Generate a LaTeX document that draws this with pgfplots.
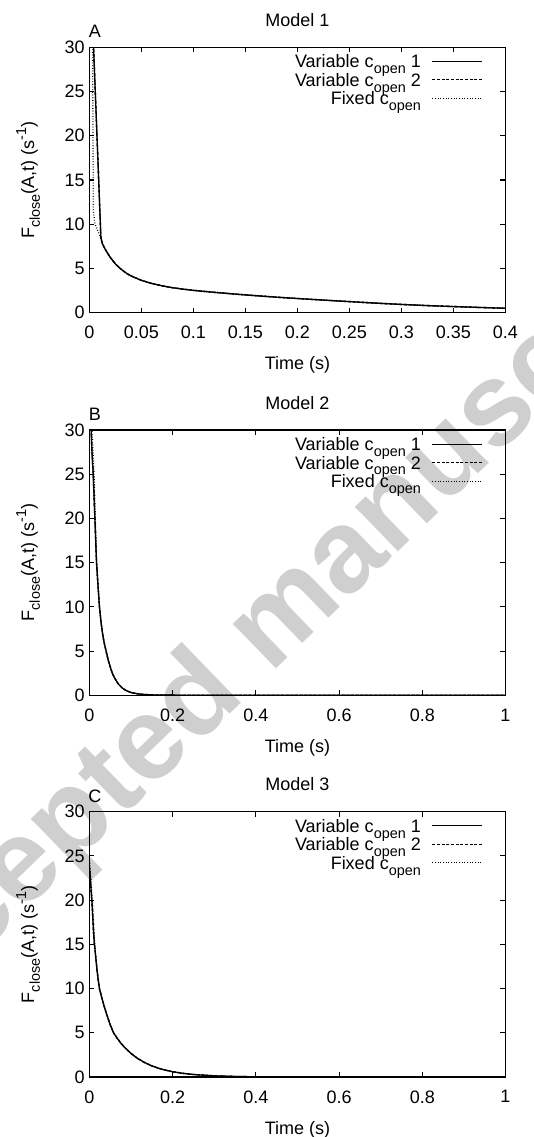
\documentclass[border=0pt]{standalone}
\usepackage{fontspec}
\setmainfont{Liberation Sans}
\usepackage{pgfplots}
\usepackage{pgfplotstable}
\pgfplotsset{compat=1.18}

\definecolor{wmgray}{gray}{0.81}

% gnuplot-like sub- and superscripts
\newcommand\lowsub[1]{\raisebox{-0.32em}{\fontsize{10.8pt}{12pt}\selectfont #1}}
\newcommand\highsup[1]{\raisebox{0.45em}{\fontsize{10.8pt}{12pt}\selectfont #1}}
\newcommand\gpfont{\fontsize{13.5pt}{15pt}\selectfont}

% ---------------- Model 1 ----------------
\pgfplotstableread{
t      F
0.003  32.9
0.011  8.45
0.0125 7.8
0.015  7.2
0.0175 6.7
0.02   6.25
0.025  5.5
0.03   4.95
0.035  4.5
0.04   4.15
0.05   3.65
0.06   3.3
0.07   3.03
0.08   2.82
0.09   2.66
0.1    2.52
0.12   2.3
0.14   2.1
0.16   1.92
0.18   1.75
0.2    1.6
0.225  1.42
0.25   1.25
0.275  1.08
0.3    0.93
0.325  0.8
0.35   0.69
0.375  0.59
0.4    0.5
}\mAvarA
\pgfplotstableread{
t      F
0.003  32.9
0.011  8.45
0.0125 7.8
0.015  7.2
0.0175 6.7
0.02   6.25
0.025  5.5
0.03   4.95
0.035  4.5
0.04   4.15
0.05   3.65
0.06   3.3
0.07   3.03
0.08   2.82
0.09   2.66
0.1    2.52
0.12   2.3
0.14   2.1
0.16   1.92
0.18   1.75
0.2    1.6
0.225  1.42
0.25   1.25
0.275  1.08
0.3    0.93
0.325  0.8
0.35   0.69
0.375  0.59
0.4    0.5
}\mAvarB
\pgfplotstableread{
t      F
0.0027 34.0
0.0030 30.0
0.0038 11.4
0.0053 10.0
0.011  8.45
0.0125 7.8
0.015  7.2
0.0175 6.7
0.02   6.25
0.025  5.5
0.03   4.95
0.035  4.5
0.04   4.15
0.05   3.65
0.06   3.3
0.07   3.03
0.08   2.82
0.09   2.66
0.1    2.52
0.12   2.3
0.14   2.1
0.16   1.92
0.18   1.75
0.2    1.6
0.225  1.42
0.25   1.25
0.275  1.08
0.3    0.93
0.325  0.8
0.35   0.69
0.375  0.59
0.4    0.5
}\mAfix

% ---------------- Model 2 ----------------
\pgfplotstableread{
t     F
0     36
0.004 30
0.006 27.5
0.009 25
0.013 20
0.017 15
0.020 12.8
0.024 10
0.028 8.2
0.032 6.8
0.036 5.8
0.040 5.0
0.045 4.0
0.050 3.2
0.055 2.5
0.060 2.0
0.065 1.6
0.070 1.25
0.080 0.78
0.090 0.5
0.100 0.32
0.115 0.18
0.130 0.1
0.150 0.05
0.200 0.02
0.3   0.01
0.5   0.005
1.0   0.0
}\mBvarA
\pgfplotstableread{
t     F
0     36
0.004 30
0.006 27.5
0.009 25
0.013 20
0.017 15
0.020 12.8
0.024 10
0.028 8.2
0.032 6.8
0.036 5.8
0.040 5.0
0.045 4.0
0.050 3.2
0.055 2.5
0.060 2.0
0.065 1.6
0.070 1.25
0.080 0.78
0.090 0.5
0.100 0.32
0.115 0.18
0.130 0.1
0.150 0.05
0.200 0.02
0.3   0.01
0.5   0.005
1.0   0.0
}\mBvarB
\pgfplotstableread{
t     F
0     38
0.006 30
0.011 25
0.014 20
0.017 15
0.020 12.8
0.024 10
0.028 8.2
0.032 6.8
0.036 5.8
0.040 5.0
0.045 4.0
0.050 3.2
0.055 2.5
0.060 2.0
0.065 1.6
0.070 1.25
0.080 0.78
0.090 0.5
0.100 0.32
0.115 0.18
0.130 0.1
0.150 0.05
0.200 0.02
0.3   0.01
0.5   0.005
1.0   0.0
}\mBfix

% ---------------- Model 3 ----------------
\pgfplotstableread{
t     F
0     23.8
0.002 22.5
0.004 21
0.006 19.8
0.008 18
0.010 16.2
0.012 15
0.015 13.6
0.018 12.2
0.021 11
0.024 10
0.030 8.9
0.036 7.9
0.042 7.0
0.050 5.9
0.058 5.0
0.066 4.43
0.075 3.86
0.085 3.33
0.1   2.67
0.115 2.13
0.13  1.71
0.15  1.26
0.175 0.87
0.2   0.6
0.225 0.42
0.25  0.29
0.3   0.14
0.35  0.07
0.4   0.03
0.5   0.01
0.7   0.0
1.0   0.0
}\mCvarA
\pgfplotstableread{
t     F
0     23.8
0.002 22.5
0.004 21
0.006 19.8
0.008 18
0.010 16.2
0.012 15
0.015 13.6
0.018 12.2
0.021 11
0.024 10
0.030 8.9
0.036 7.9
0.042 7.0
0.050 5.9
0.058 5.0
0.066 4.43
0.075 3.86
0.085 3.33
0.1   2.67
0.115 2.13
0.13  1.71
0.15  1.26
0.175 0.87
0.2   0.6
0.225 0.42
0.25  0.29
0.3   0.14
0.35  0.07
0.4   0.03
0.5   0.01
0.7   0.0
1.0   0.0
}\mCvarB
\pgfplotstableread{
t     F
0     24.5
0.004 22
0.008 19
0.012 15.5
0.015 13.6
0.018 12.2
0.021 11
0.024 10
0.030 8.9
0.036 7.9
0.042 7.0
0.050 5.9
0.058 5.0
0.066 4.43
0.075 3.86
0.085 3.33
0.1   2.67
0.115 2.13
0.13  1.71
0.15  1.26
0.175 0.87
0.2   0.6
0.225 0.42
0.25  0.29
0.3   0.14
0.35  0.07
0.4   0.03
0.5   0.01
0.7   0.0
1.0   0.0
}\mCfix

\pgfplotsset{
  gp/.style={
    scale only axis, width=312pt, height=199pt,
    anchor=north west,
    clip mode=individual,
    /pgf/number format/assume math mode=true,
    ymin=0, ymax=30, ytick={0,5,10,15,20,25,30},
    axis line style={line width=1.1pt, black},
    every tick/.style={line width=0.8pt, black},
    major tick length=3.75pt,
    tick align=inside, tick pos=both,
    tick label style={font=\gpfont, inner sep=0pt},
    yticklabel style={xshift=-3.4pt},
    xticklabel style={yshift=-9.9pt,
      /pgf/number format/fixed, /pgf/number format/precision=2},
    label style={font=\gpfont},
    every axis title shift=0pt,
    title style={at={(axis description cs:0.5,1.103)}, anchor=center,
                 font=\gpfont, inner sep=0pt, yshift=0pt},
    xlabel style={at={(axis description cs:0.5,-0.197)}, anchor=center, inner sep=0pt},
    ylabel style={at={(axis description cs:-0.1474,0.5)}, anchor=center, inner sep=0pt},
    xlabel={Time (s)},
    ylabel={F\lowsub{close}(A,t) (s\highsup{-1})},
    legend plot pos=right,
    legend cell align=right,
    legend image code/.code={\draw[##1, line width=0.7pt] (0pt,0pt) -- (37.5pt,0pt);},
    legend style={
      draw=none, fill=none,
      at={(axis description cs:0.946,0.983)}, anchor=north east,
      inner sep=0pt, row sep=0pt,
      font=\gpfont,
      nodes={inner sep=0pt, text height=11.8pt, text depth=2.1pt},
      /tikz/every odd column/.append style={column sep=8.25pt},
    },
    every axis plot/.append style={line width=1pt, black},
    s1/.style={solid},
    s2/.style={dash pattern=on 2.2pt off 1.3pt},
    s3/.style={dash pattern=on 0.6pt off 1.4pt},
  }
}

\begin{document}
\begin{tikzpicture}
\useasboundingbox (0pt,0pt) rectangle (400.5pt,-852.75pt);

% background watermark
\begin{scope}
\clip (0pt,0pt) rectangle (400.5pt,-852.75pt);
\node[rotate=44, text=wmgray, font=\fontsize{88pt}{88pt}\selectfont\bfseries, inner sep=0pt]
  at (206.25pt,-471pt) {Accepted manuscript};
\end{scope}

% Model 1
\begin{axis}[gp, at={(67.1pt,-35.5pt)},
  xmin=0, xmax=0.4,
  xtick={0,0.05,0.1,0.15,0.2,0.25,0.3,0.35,0.4},
  title={Model 1}]
\addplot[s1] table[x=t,y=F] {\mAvarA};
\addlegendentry{Variable c\lowsub{open} 1}
\addplot[s2] table[x=t,y=F] {\mAvarB};
\addlegendentry{Variable c\lowsub{open} 2}
\addplot[s3] table[x=t,y=F] {\mAfix};
\addlegendentry{Fixed c\lowsub{open}}
\node[font=\gpfont, inner sep=0pt] at (axis description cs:0.0128,1.0588) {A};
\end{axis}

% Model 2
\begin{axis}[gp, at={(67.1pt,-322.5pt)},
  xmin=0, xmax=1,
  xtick={0,0.2,0.4,0.6,0.8,1},
  title={Model 2}]
\addplot[s1] table[x=t,y=F] {\mBvarA};
\addlegendentry{Variable c\lowsub{open} 1}
\addplot[s2] table[x=t,y=F] {\mBvarB};
\addlegendentry{Variable c\lowsub{open} 2}
\addplot[s3] table[x=t,y=F] {\mBfix};
\addlegendentry{Fixed c\lowsub{open}}
\node[font=\gpfont, inner sep=0pt] at (axis description cs:0.0128,1.0588) {B};
\end{axis}

% Model 3
\begin{axis}[gp, at={(67.1pt,-608.8pt)},
  xmin=0, xmax=1,
  xtick={0,0.2,0.4,0.6,0.8,1},
  title={Model 3}]
\addplot[s1] table[x=t,y=F] {\mCvarA};
\addlegendentry{Variable c\lowsub{open} 1}
\addplot[s2] table[x=t,y=F] {\mCvarB};
\addlegendentry{Variable c\lowsub{open} 2}
\addplot[s3] table[x=t,y=F] {\mCfix};
\addlegendentry{Fixed c\lowsub{open}}
\node[font=\gpfont, inner sep=0pt] at (axis description cs:0.0128,1.0588) {C};
\end{axis}
\end{tikzpicture}
\end{document}
